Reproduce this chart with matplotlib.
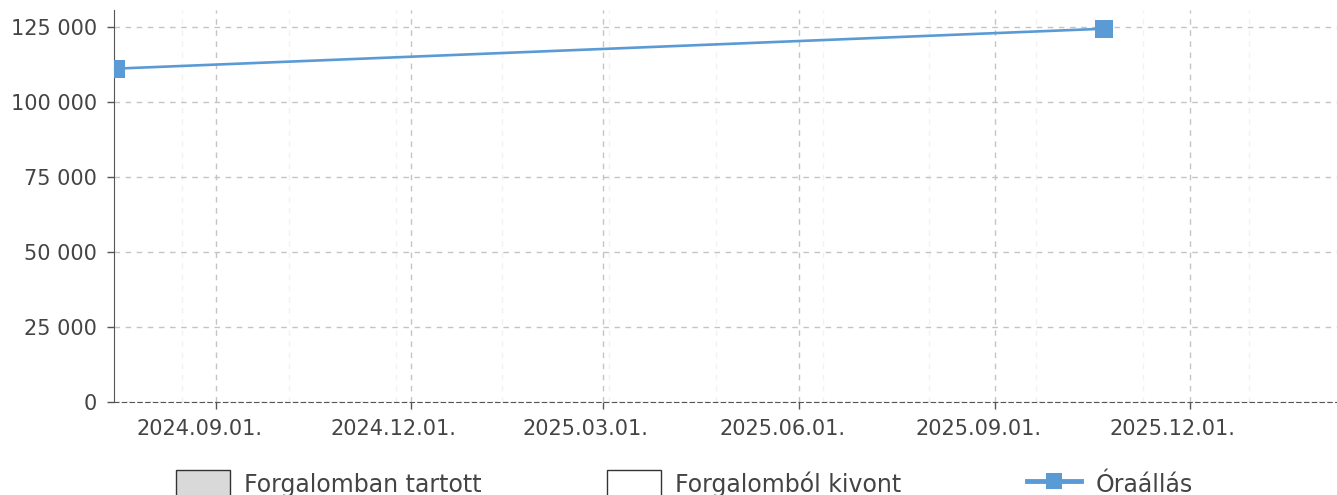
import matplotlib
matplotlib.use("Agg")
import matplotlib.pyplot as plt
import matplotlib.dates as mdates
import matplotlib.transforms as mtransforms
from matplotlib.patches import Patch
from matplotlib.lines import Line2D
from matplotlib.ticker import FuncFormatter
import pandas as pd

plt.rcParams["font.family"] = ["DejaVu Sans"]

# data
dates = pd.to_datetime(["2024-07-16", "2025-10-22"])
odometer = [111100, 124400]

legend_labels = ["Forgalomban tartott", "Forgalomból kivont", "Óraállás"]
line_color = "#5b9bd5"
text_color = "#444444"

fig = plt.figure(figsize=(13.37, 4.95), dpi=100)
ax = fig.add_axes([114 / 1337, 93 / 495, 1 - 114 / 1337, (402 - 9.5) / 495])

ax.plot(dates, odometer, color=line_color, lw=1.9, marker="s", ms=13.5,
        markeredgewidth=0, zorder=3)

ax.set_xlim(pd.Timestamp("2024-07-15"), pd.Timestamp("2026-02-08"))
ax.set_ylim(0, 130800)

ax.yaxis.set_major_locator(matplotlib.ticker.MultipleLocator(25000))
ax.yaxis.set_major_formatter(FuncFormatter(lambda v, p: f"{v:,.0f}".replace(",", " ")))

ax.xaxis.set_major_locator(mdates.MonthLocator(bymonth=[3, 6, 9, 12], bymonthday=1))
ax.xaxis.set_major_formatter(mdates.DateFormatter("%Y.%m.%d."))
minor_dates = pd.date_range("2024-08-16", periods=11, freq="50D")
ax.set_xticks(mdates.date2num(minor_dates), minor=True)

ax.grid(which="major", color="#c4c4c4", ls=(0, (4, 4)), lw=1)
ax.grid(which="minor", axis="x", color="#f2f2f2", ls=(0, (4, 4)), lw=1)
ax.set_axisbelow(True)

for s in ["top", "right"]:
    ax.spines[s].set_visible(False)
ax.spines["left"].set_color("#555555")
ax.spines["bottom"].set_color("#555555")
ax.spines["bottom"].set_linestyle((0, (4, 3)))

ax.tick_params(axis="both", which="major", labelsize=15, colors="#555555",
               labelcolor=text_color, length=5, width=1)
ax.tick_params(axis="y", which="major", pad=7)
ax.tick_params(axis="x", which="major", pad=7)
ax.tick_params(axis="x", which="minor", length=0)

# the reference shifts date labels a little to the left of their ticks
shift = mtransforms.ScaledTranslation(-17 / 100, 0, fig.dpi_scale_trans)
for lab in ax.get_xticklabels():
    lab.set_transform(lab.get_transform() + shift)

handles = [
    Patch(facecolor="#d9d9d9", edgecolor="#333333", lw=1),
    Patch(facecolor="white", edgecolor="#333333", lw=1),
    Line2D([], [], color=line_color, lw=3.5, marker="s", ms=11, markeredgewidth=0),
]
fig.legend(handles, legend_labels, loc="center", bbox_to_anchor=(684 / 1337, 11 / 495),
           ncol=3, frameon=False, fontsize=17, labelcolor=text_color,
           handlelength=2.3, handleheight=1.5, handletextpad=0.6, columnspacing=5.3)

fig.savefig("out.png", dpi=100)
